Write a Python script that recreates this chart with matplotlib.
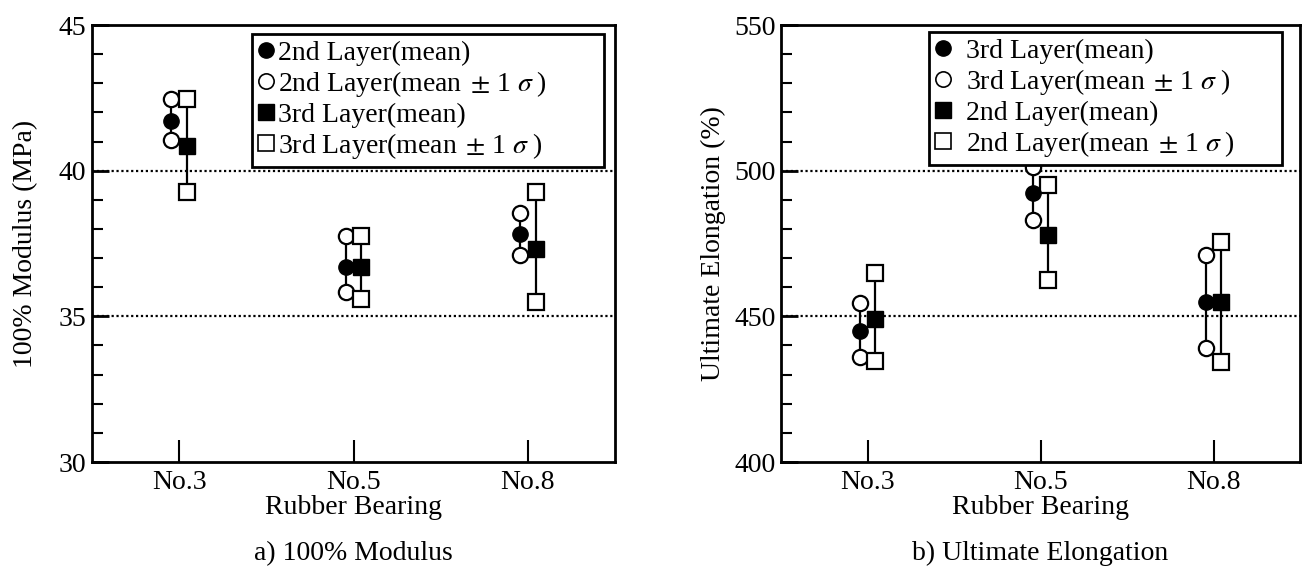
import matplotlib
matplotlib.use('Agg')
import matplotlib.pyplot as plt
from matplotlib.lines import Line2D
import numpy as np

plt.rcParams['font.family'] = ['Liberation Serif', 'DejaVu Serif']
plt.rcParams['mathtext.fontset'] = 'stix'

bearings = ['No.3', 'No.5', 'No.8']

# a) 100% modulus (MPa)
mod_2nd_mean = [41.71, 36.69, 37.81]
mod_2nd_upper = [42.45, 37.75, 38.55]
mod_2nd_lower = [41.05, 35.83, 37.09]
mod_3rd_mean = [40.86, 36.69, 37.32]
mod_3rd_upper = [42.45, 37.77, 39.28]
mod_3rd_lower = [39.28, 35.58, 35.49]

# b) ultimate elongation (%)
elo_3rd_mean = [444.8, 492.3, 454.9]
elo_3rd_upper = [454.7, 501.1, 471.0]
elo_3rd_lower = [436.0, 482.9, 439.1]
elo_2nd_mean = [449.2, 477.9, 454.9]
elo_2nd_upper = [464.8, 495.2, 475.6]
elo_2nd_lower = [434.6, 462.5, 434.5]

FS = 20
LFS = 20
MS = 11
x = np.arange(1, len(bearings) + 1)
dx = 0.045


def series(ax, xs, mean, lower, upper, marker):
    for xi, lo, hi in zip(xs, lower, upper):
        ax.plot([xi, xi], [lo, hi], color='k', lw=1.6, zorder=2)
    ax.plot(xs, lower, ls='none', marker=marker, ms=MS, mfc='white', mec='k', mew=1.6, zorder=3)
    ax.plot(xs, upper, ls='none', marker=marker, ms=MS, mfc='white', mec='k', mew=1.6, zorder=3)
    ax.plot(xs, mean, ls='none', marker=marker, ms=MS, mfc='k', mec='k', zorder=4)


def style(ax, ylim, major, minor, grid):
    ax.set_xlim(0.5, 3.5)
    ax.set_ylim(*ylim)
    ax.set_xticks(x)
    ax.set_xticklabels(bearings, fontsize=FS)
    ax.set_yticks(np.arange(ylim[0], ylim[1] + 0.1, major))
    ax.set_yticks(np.arange(ylim[0], ylim[1] + 0.1, minor), minor=True)
    ax.tick_params(axis='y', which='major', direction='in', length=12, width=2, labelsize=FS, pad=4)
    ax.tick_params(axis='y', which='minor', direction='in', length=8, width=1.5)
    ax.tick_params(axis='x', which='major', direction='in', length=16, width=1.5, pad=6)
    for s in ax.spines.values():
        s.set_linewidth(2)
    for g in grid:
        ax.axhline(g, color='k', lw=1.6, ls=(0, (1, 1.2)), zorder=1)
    ax.set_xlabel('Rubber Bearing', fontsize=FS, labelpad=0)


def legend(ax, labels, markers, box, pad):
    handles = [
        Line2D([], [], ls='none', marker=markers[0], ms=MS, mfc='k', mec='k'),
        Line2D([], [], ls='none', marker=markers[0], ms=MS, mfc='white', mec='k', mew=1.2),
        Line2D([], [], ls='none', marker=markers[1], ms=MS, mfc='k', mec='k'),
        Line2D([], [], ls='none', marker=markers[1], ms=MS, mfc='white', mec='k', mew=1.2),
    ]
    leg = ax.legend(handles, labels, loc='upper left', bbox_to_anchor=box, mode='expand',
                    borderaxespad=0, fontsize=LFS, handlelength=0.6, handletextpad=pad,
                    labelspacing=0.12, borderpad=0.22, fancybox=False, framealpha=1,
                    edgecolor='k')
    leg.get_frame().set_linewidth(2)
    leg.set_zorder(5)


fig = plt.figure(figsize=(13.05, 5.75), dpi=100)
ax1 = fig.add_axes([0.0705, 0.1965, 0.4008, 0.76])
ax2 = fig.add_axes([0.5985, 0.1965, 0.3977, 0.76])

pm = r'(mean$\;\pm\,$1 $\sigma\;$)'

series(ax1, x - dx, mod_2nd_mean, mod_2nd_lower, mod_2nd_upper, 'o')
series(ax1, x + dx, mod_3rd_mean, mod_3rd_lower, mod_3rd_upper, 's')
style(ax1, (30, 45), 5, 1, [35, 40])
ax1.set_ylabel('100% Modulus (MPa)', fontsize=FS)
ax1.yaxis.set_label_coords(-0.103, 0.5)
legend(ax1, ['2nd Layer(mean)', '2nd Layer' + pm,
             '3rd Layer(mean)', '3rd Layer' + pm],
       ['o', 's'], (0.306, 0.5, 0.673, 0.479), 0.1)

series(ax2, x - dx, elo_3rd_mean, elo_3rd_lower, elo_3rd_upper, 'o')
series(ax2, x + dx, elo_2nd_mean, elo_2nd_lower, elo_2nd_upper, 's')
style(ax2, (400, 550), 50, 10, [450, 500])
ax2.set_ylabel('Ultimate Elongation (%)', fontsize=FS)
ax2.yaxis.set_label_coords(-0.106, 0.5)
legend(ax2, ['3rd Layer(mean)', '3rd Layer' + pm,
             '2nd Layer(mean)', '2nd Layer' + pm],
       ['o', 's'], (0.285, 0.5, 0.68, 0.484), 0.5)

fig.text(0.0705 + 0.4008 / 2, 0.038, 'a) 100% Modulus', ha='center', va='center', fontsize=FS)
fig.text(0.5985 + 0.3977 / 2, 0.038, 'b) Ultimate Elongation', ha='center', va='center', fontsize=FS)

fig.savefig('out.png', dpi=100)
